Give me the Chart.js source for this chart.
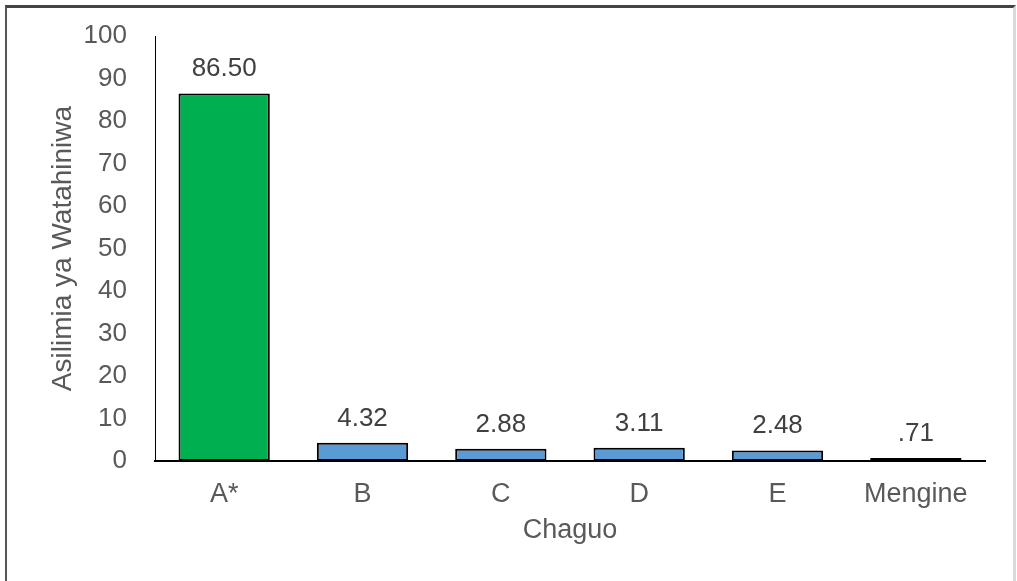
<!DOCTYPE html>
<html>
<head>
<meta charset="utf-8">
<script src="https://cdn.jsdelivr.net/npm/chart.js@4.4.1/dist/chart.umd.min.js"></script>
<style>
  html, body { margin: 0; padding: 0; background: #fff; }
  #wrap { position: relative; width: 1017px; height: 581px; overflow: hidden; }
  #frame { position: absolute; left: 5px; top: 5px; width: 1011px; height: 590px; box-sizing: border-box;
           border-top: 3px solid #444; border-left: 2px solid #555; border-right: 3px solid #d9d9d9; pointer-events: none; }
  canvas { position: absolute; left: 0; top: 0; }
</style>
</head>
<body>
<div id="wrap">
  <canvas id="c" width="1017" height="581"></canvas>
  <div id="frame"></div>
</div>
<script>
const categories = ["A*", "B", "C", "D", "E", "Mengine"];
const values = [86.50, 4.32, 2.88, 3.11, 2.48, 0.71];
const barColors = ["#00B050", "#5B9BD5", "#5B9BD5", "#5B9BD5", "#5B9BD5", "#5B9BD5"];
const yTitle = "Asilimia ya Watahiniwa";
const xTitle = "Chaguo";

function fmt(v) {
  let s = v.toFixed(2);
  if (s.startsWith("0")) s = s.slice(1);
  return s;
}

const valueLabels = {
  id: 'valueLabels',
  afterDatasetsDraw(chart) {
    const ctx = chart.ctx;
    const meta = chart.getDatasetMeta(0);
    ctx.save();
    ctx.font = '26px "Liberation Sans", Arial, sans-serif';
    ctx.fillStyle = '#404040';
    ctx.textAlign = 'center';
    ctx.textBaseline = 'alphabetic';
    meta.data.forEach((bar, i) => {
      ctx.fillText(fmt(values[i]), bar.x, bar.y - 17);
    });
    ctx.restore();
  }
};

new Chart(document.getElementById('c'), {
  type: 'bar',
  data: {
    labels: categories,
    datasets: [{
      data: values,
      backgroundColor: barColors,
      borderColor: '#000',
      borderWidth: 2,
      borderSkipped: false,
      categoryPercentage: 1,
      barPercentage: 0.66
    }]
  },
  options: {
    responsive: false,
    animation: false,
    events: [],
    layout: { padding: { top: 36, left: 0, right: 32, bottom: 0 } },
    plugins: { legend: { display: false }, tooltip: { enabled: false } },
    scales: {
      x: {
        grid: { display: false, drawTicks: false, tickLength: 0 },
        border: { display: true, color: '#000', width: 2 },
        ticks: { color: '#595959', padding: 17, font: { family: '"Liberation Sans", Arial, sans-serif', size: 27, lineHeight: 1.2 } },
        title: { display: true, text: xTitle, color: '#595959', padding: { top: 0, bottom: 34 },
                 font: { family: '"Liberation Sans", Arial, sans-serif', size: 27, lineHeight: 1.2 } },
        afterFit(s) { s.height = 120; s.paddingLeft = 0; s.paddingRight = 0; }
      },
      y: {
        min: 0, max: 100,
        grid: { display: false, drawTicks: false, tickLength: 0 },
        border: { display: true, color: '#000', width: 1 },
        ticks: { stepSize: 10, color: '#595959', padding: 28, font: { family: '"Liberation Sans", Arial, sans-serif', size: 26, lineHeight: 1.2 } },
        title: { display: true, text: yTitle, color: '#595959', padding: { top: 46, bottom: 0 },
                 font: { family: '"Liberation Sans", Arial, sans-serif', size: 28, lineHeight: 1.2 } },
        afterFit(s) { s.width = 155; s.paddingTop = 0; s.paddingBottom = 0; }
      }
    }
  },
  plugins: [valueLabels]
});
</script>
</body>
</html>
